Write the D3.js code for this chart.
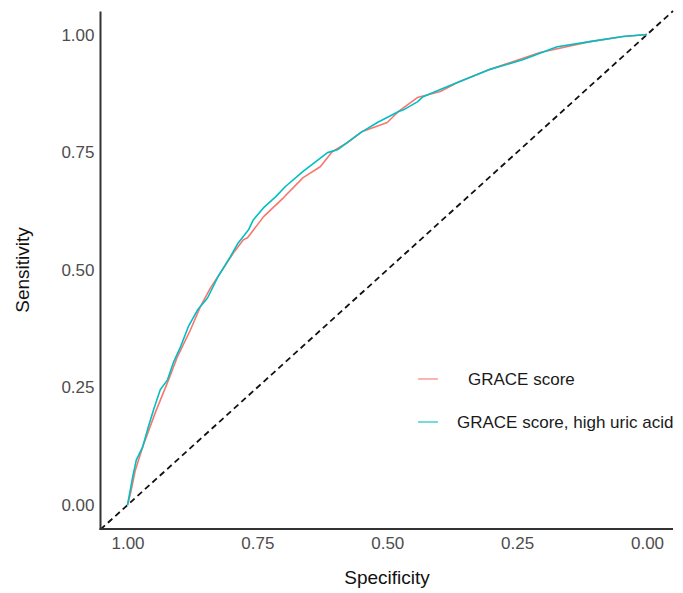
<!DOCTYPE html>
<html>
<head>
<meta charset="utf-8">
<script src="https://cdn.jsdelivr.net/npm/d3@7"></script>
<style>
  body { margin: 0; background: #fff; }
  text { font-family: "Liberation Sans", Arial, sans-serif; }
</style>
</head>
<body>
<div id="chart"></div>
<script>
// ROC points (specificity, sensitivity)
const graceSpec = [1.000, 0.994, 0.985, 0.971, 0.946, 0.921, 0.904, 0.879, 0.860, 0.840, 0.821, 0.796, 0.777, 0.769, 0.738, 0.700, 0.662, 0.629, 0.606, 0.577, 0.548, 0.500, 0.479, 0.442, 0.398, 0.365, 0.302, 0.206, 0.110, 0.046, 0.000];
const graceSens = [0.000, 0.026, 0.074, 0.123, 0.198, 0.266, 0.315, 0.372, 0.421, 0.462, 0.494, 0.536, 0.564, 0.568, 0.613, 0.653, 0.696, 0.719, 0.751, 0.770, 0.794, 0.813, 0.836, 0.866, 0.879, 0.898, 0.926, 0.962, 0.985, 0.996, 1.000];

const uricSpec = [1.000, 0.990, 0.983, 0.971, 0.960, 0.950, 0.937, 0.923, 0.912, 0.898, 0.883, 0.865, 0.846, 0.827, 0.802, 0.787, 0.767, 0.758, 0.738, 0.715, 0.696, 0.662, 0.615, 0.596, 0.552, 0.519, 0.479, 0.469, 0.442, 0.431, 0.398, 0.365, 0.302, 0.238, 0.173, 0.110, 0.046, 0.000];
const uricSens = [0.000, 0.060, 0.096, 0.123, 0.166, 0.202, 0.245, 0.266, 0.302, 0.336, 0.379, 0.415, 0.440, 0.483, 0.528, 0.557, 0.585, 0.606, 0.632, 0.655, 0.677, 0.709, 0.749, 0.755, 0.791, 0.813, 0.836, 0.840, 0.857, 0.868, 0.883, 0.898, 0.926, 0.947, 0.974, 0.985, 0.996, 1.000];

const ticks = [1.00, 0.75, 0.50, 0.25, 0.00];
const seriesNames = ['GRACE score', 'GRACE score, high uric acid'];
const colors = ['#F8766D', '#00BFC4'];

const svg = d3.select('#chart').append('svg')
    .attr('width', 683)
    .attr('height', 593);

const margin = {top: 11.5, right: 10, bottom: 64, left: 100.5},
    width = 683 - margin.left - margin.right,
    height = 593 - margin.top - margin.bottom;

const x = d3.scaleLinear().domain([1.052, -0.05]).range([0, width]);
const y = d3.scaleLinear().domain([-0.051, 1.049]).range([height, 0]);

const g = svg.append('g')
    .attr('transform', 'translate(' + margin.left + ',' + margin.top + ')');

// diagonal reference
g.append('line')
    .attr('x1', x(1.052)).attr('y1', y(1 - 1.052))
    .attr('x2', x(-0.05)).attr('y2', y(1.05))
    .attr('stroke', '#111')
    .attr('stroke-width', 1.8)
    .attr('stroke-dasharray', '6,4');

const line = d3.line()
    .x(d => x(d[0]))
    .y(d => y(d[1]));

const series = [
  d3.zip(graceSpec, graceSens),
  d3.zip(uricSpec, uricSens)
];

series.forEach((s, i) => {
  g.append('path')
      .datum(s)
      .attr('fill', 'none')
      .attr('stroke', colors[i])
      .attr('stroke-width', 1.6)
      .attr('stroke-linejoin', 'round')
      .attr('d', line);
});

// axes
const xAxis = g.append('g')
    .attr('transform', 'translate(0,' + height + ')')
    .call(d3.axisBottom(x).tickValues(ticks).tickFormat(d3.format('.2f')).tickSize(0).tickPadding(8));
const yAxis = g.append('g')
    .call(d3.axisLeft(y).tickValues(ticks).tickFormat(d3.format('.2f')).tickSize(0).tickPadding(6));

[xAxis, yAxis].forEach(a => {
  a.select('.domain').attr('stroke', '#333').attr('stroke-width', 2);
  a.selectAll('text')
      .attr('font-family', '"Liberation Sans", Arial, sans-serif')
      .attr('font-size', 17)
      .attr('fill', '#4D4D4D');
});
xAxis.select('.domain').attr('d', 'M-1,0H' + width);
yAxis.select('.domain').attr('d', 'M0,' + (height + 1) + 'V0');

// axis titles
svg.append('text')
    .attr('x', 387)
    .attr('y', 584)
    .attr('text-anchor', 'middle')
    .attr('font-size', 19)
    .attr('fill', '#111')
    .text('Specificity');

svg.append('text')
    .attr('transform', 'translate(29,270) rotate(-90)')
    .attr('text-anchor', 'middle')
    .attr('font-size', 19)
    .attr('fill', '#111')
    .text('Sensitivity');

// legend
const legendY = [379, 422];
const labelX = [468, 457];
seriesNames.forEach((name, i) => {
  svg.append('line')
      .attr('x1', 418).attr('x2', 438)
      .attr('y1', legendY[i]).attr('y2', legendY[i])
      .attr('stroke', colors[i])
      .attr('stroke-opacity', 0.55)
      .attr('stroke-width', 2);
  svg.append('text')
      .attr('x', labelX[i])
      .attr('y', legendY[i] + 6)
      .attr('font-size', 17)
      .attr('fill', '#1a1a1a')
      .text(name);
});
</script>
</body>
</html>
